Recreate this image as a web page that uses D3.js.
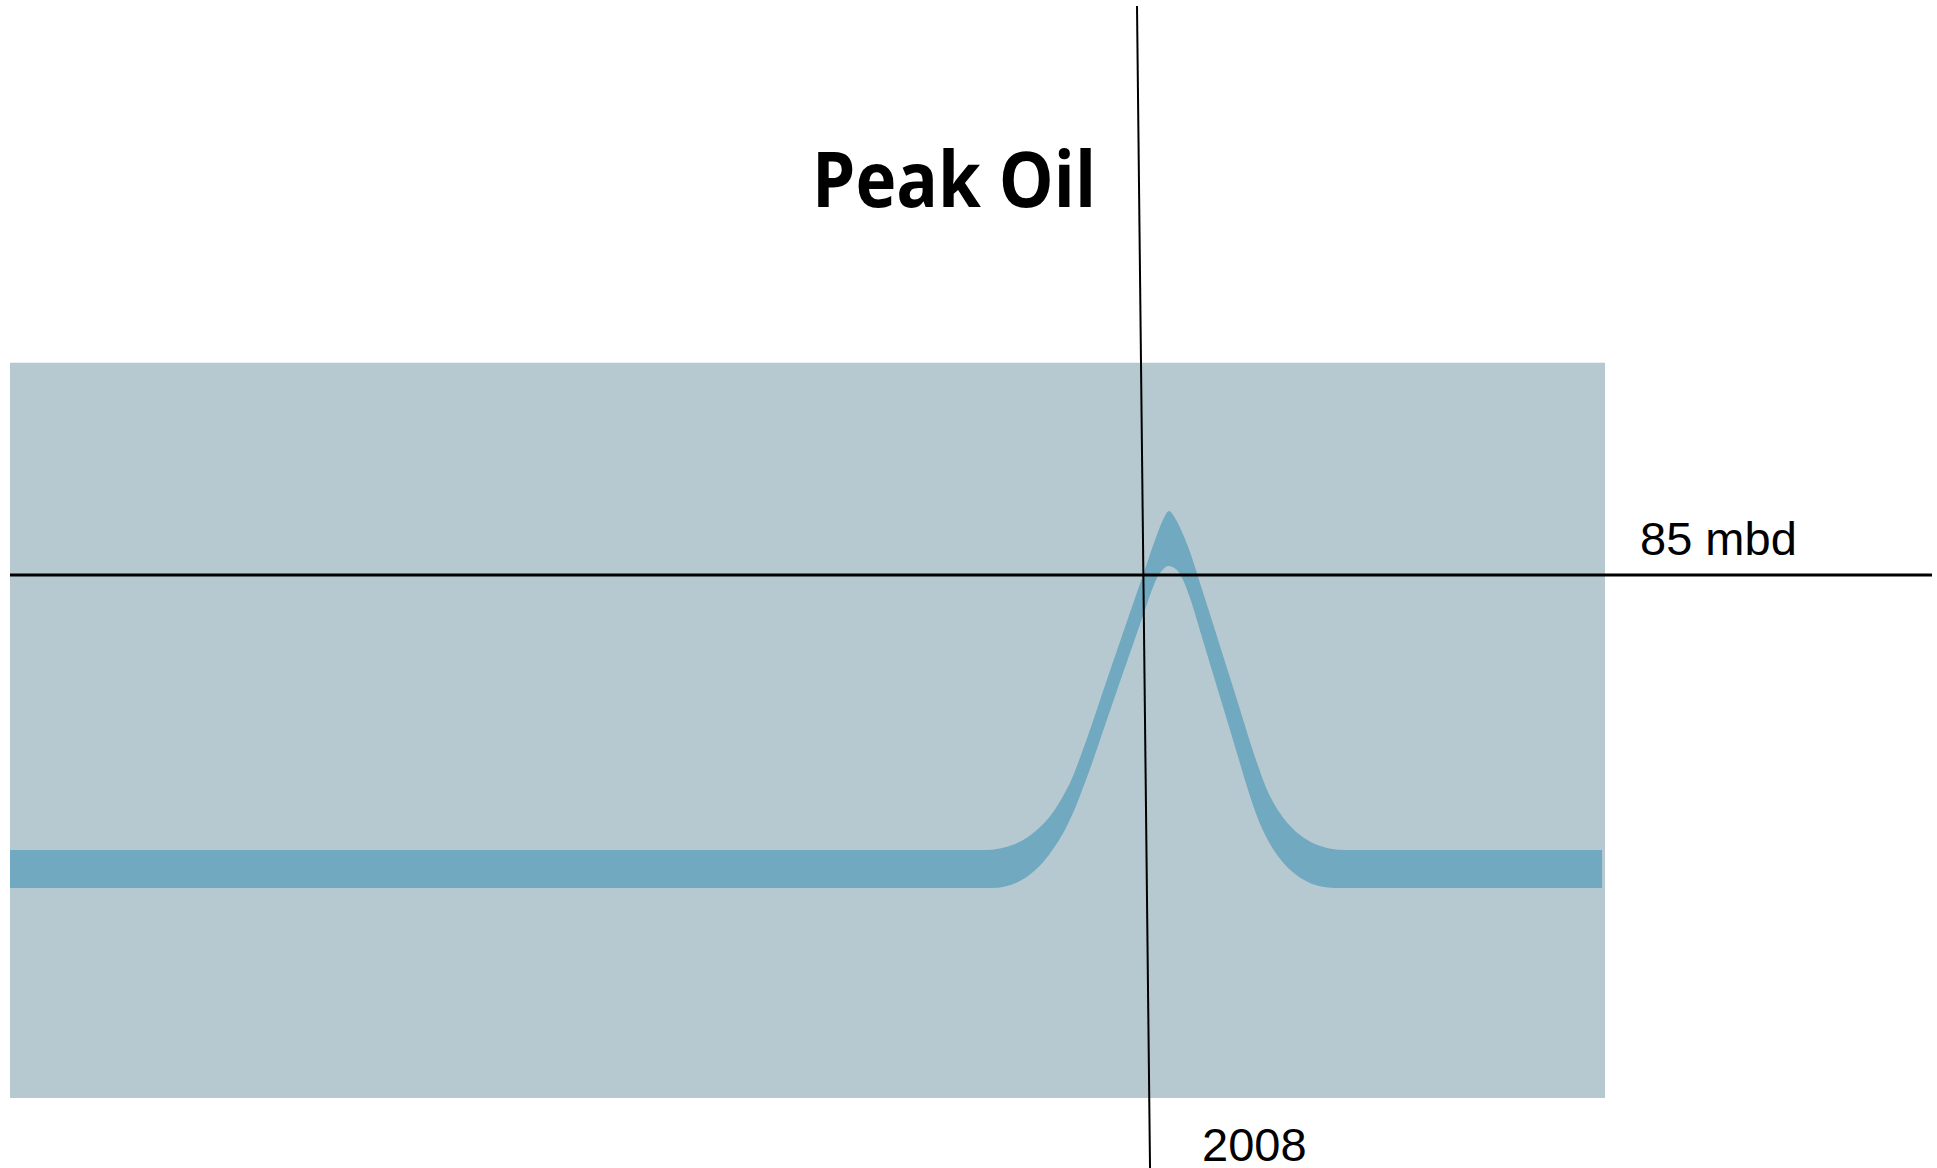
<!DOCTYPE html>
<html>
<head>
<meta charset="utf-8">
<script src="https://cdn.jsdelivr.net/npm/d3@7"></script>
<style>
  html, body { margin: 0; padding: 0; background: #ffffff; }
  svg { display: block; }
</style>
</head>
<body>
<svg id="chart" width="1937" height="1168"></svg>
<script>
// ---- Data (conceptual production band, million barrels per day) ----
const titleText = "Peak Oil";
const levelLabel = "85 mbd";
const yearLabel = "2008";
const peakLevel = 85;
const peakYear = 2008;

// upper edge of production band
const upperYears = [1846.00, 1981.71, 1985.29, 1989.51, 1991.41, 1993.19, 1994.81, 1996.30,
                    1997.66, 1998.86, 2003.14, 2007.86, 2009.57, 2010.71, 2011.57, 2012.43,
                    2013.43, 2014.57, 2016.00, 2020.71, 2024.29, 2025.31, 2026.50, 2027.81,
                    2029.30, 2030.93, 2032.71, 2034.64, 2036.71, 2073.43];
const upperValues = [40.31, 40.31, 40.31, 41.25, 42.42, 44.08, 46.16, 48.81,
                     51.80, 55.31, 69.45, 85.00, 90.66, 93.94, 95.40, 94.26,
                     91.99, 88.74, 83.70, 66.80, 53.99, 50.79, 47.98, 45.65,
                     43.72, 42.22, 41.15, 40.52, 40.31, 40.31];

// lower edge of production band
const lowerYears = [1846.00, 1981.71, 1986.29, 1990.14, 1991.93, 1993.64, 1995.24, 1996.79,
                    1998.21, 1999.57, 2003.57, 2007.86, 2008.43, 2009.29, 2010.14, 2010.86,
                    2011.43, 2012.71, 2013.71, 2014.57, 2016.43, 2020.71, 2023.14, 2024.21,
                    2025.40, 2026.73, 2028.18, 2029.77, 2031.47, 2033.31, 2035.29, 2073.43];
const lowerValues = [34.13, 34.13, 34.13, 35.20, 36.54, 38.40, 40.83, 43.77,
                     47.25, 51.26, 64.36, 78.40, 80.29, 83.05, 85.08, 86.06,
                     86.46, 85.81, 83.86, 81.26, 74.31, 58.22, 49.10, 45.59,
                     42.55, 39.98, 37.87, 36.24, 35.07, 34.36, 34.13, 34.13];

// reference lines
const levelLineYears = [1846, 2120.57];
const markerYears = [2007.0, 2008.86];
const markerValues = [177.47, -11.38];

// ---- Scales ----
const xDomain = [1846, 2073.857];
const yDomain = [0, 85];
const plotTop = 119.5;
const x = d3.scaleLinear().domain(xDomain).range([10, 1605]);
const y = d3.scaleLinear().domain(yDomain).range([1098, 575]);

const svg = d3.select("#chart");

// plot background
svg.append("rect")
  .attr("x", x(xDomain[0]))
  .attr("y", y(plotTop))
  .attr("width", x(xDomain[1]) - x(xDomain[0]))
  .attr("height", y(0) - y(plotTop))
  .attr("fill", "#b6c9d0");

// band: upper edge left-to-right, lower edge right-to-left, closed
const edge = d3.line().x(d => x(d[0])).y(d => y(d[1])).curve(d3.curveMonotoneX);
const upper = upperYears.map((yr, i) => [yr, upperValues[i]]);
const lowerRev = lowerYears.map((yr, i) => [yr, lowerValues[i]]).reverse();
const bandPath = edge(upper) + "L" + edge(lowerRev).slice(1) + "Z";
svg.append("path")
  .attr("d", bandPath)
  .attr("fill", "#70a9c0");

// horizontal level line
svg.append("line")
  .attr("x1", x(levelLineYears[0])).attr("x2", x(levelLineYears[1]))
  .attr("y1", y(peakLevel)).attr("y2", y(peakLevel))
  .attr("stroke", "#000").attr("stroke-width", 2.8);

// slanted year marker line
svg.append("line")
  .attr("x1", x(markerYears[0])).attr("y1", y(markerValues[0]))
  .attr("x2", x(markerYears[1])).attr("y2", y(markerValues[1]))
  .attr("stroke", "#000").attr("stroke-width", 2);

// labels
svg.append("text")
  .attr("x", x(xDomain[1]) + 35)
  .attr("y", y(peakLevel) - 20)
  .attr("font-family", "'Liberation Sans', Arial, sans-serif")
  .attr("font-size", 47)
  .attr("fill", "#000")
  .text(levelLabel);

svg.append("text")
  .attr("x", x(peakYear) + 58)
  .attr("y", 1161)
  .attr("font-family", "'Liberation Sans', Arial, sans-serif")
  .attr("font-size", 47)
  .attr("fill", "#000")
  .text(yearLabel);

svg.append("text")
  .attr("x", 812)
  .attr("y", 207)
  .attr("font-family", "'Open Sans', 'Noto Sans', sans-serif")
  .attr("font-weight", 700)
  .attr("font-size", 77)
  .attr("textLength", 284)
  .attr("lengthAdjust", "spacingAndGlyphs")
  .attr("fill", "#000")
  .text(titleText);
</script>
</body>
</html>
